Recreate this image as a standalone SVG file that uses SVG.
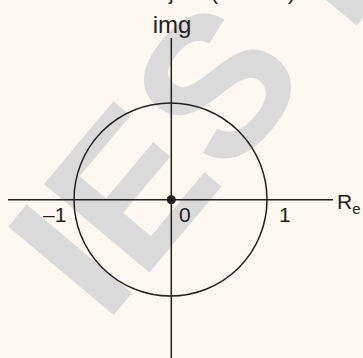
<svg xmlns="http://www.w3.org/2000/svg" width="363" height="358" viewBox="0 0 363 358">
<style>
.lbl{font-family:"Liberation Sans",Arial,sans-serif;fill:#231f20}
.ax{stroke:#231f20;stroke-width:1.5;fill:none}
</style>
<rect width="363" height="358" fill="#fdf8f1"/>
<g id="watermark">
<text x="0" y="0" transform="translate(105.1,325.3) rotate(-50)" font-family="Liberation Sans, Arial, sans-serif" font-weight="bold" font-size="200" fill="#dadada">IES M</text>
</g>
<g id="caption">
<text class="lbl" x="169" y="0" font-size="21">j</text>
<text class="lbl" x="211" y="0" font-size="21">(</text>
<text class="lbl" x="288" y="0" font-size="21">)</text>
</g>
<g id="connectors">
<line class="ax" x1="171.3" y1="38" x2="171.3" y2="358"/>
<line class="ax" x1="8" y1="199.7" x2="333" y2="199.7"/>
</g>
<g id="unit-circle">
<circle class="ax" cx="170.5" cy="199.5" r="96.5"/>
</g>
<g id="origin">
<circle cx="171.3" cy="199.7" r="4.5" fill="#231f20"/>
</g>
<g id="labels">
<text class="lbl" x="172" y="33" font-size="24" text-anchor="middle">img</text>
<text class="lbl" x="43" y="221.5" font-size="21">–1</text>
<text class="lbl" x="179" y="222" font-size="21">0</text>
<text class="lbl" x="279" y="221.5" font-size="21">1</text>
<text class="lbl" x="337" y="208.5" font-size="21">R<tspan font-size="15" dy="5.5">e</tspan></text>
</g>
</svg>
